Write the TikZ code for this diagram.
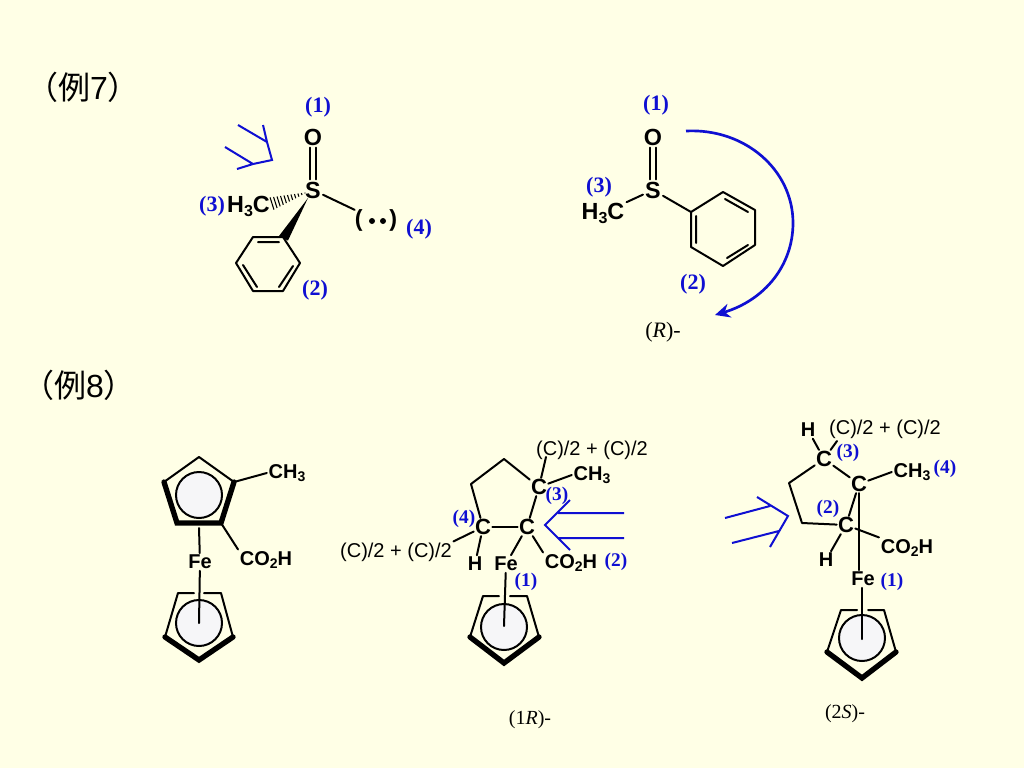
\documentclass[tikz,border=0pt]{standalone}
\usepackage{fontspec}
\setmainfont{Liberation Serif}
\setsansfont{Liberation Sans}
\newfontfamily\cjkfont{Noto Sans CJK JP}
\usetikzlibrary{calc,arrows.meta}
\definecolor{bgc}{RGB}{255,255,230}
\definecolor{lblue}{RGB}{15,15,210}
\definecolor{discfill}{RGB}{246,246,248}
\newcommand{\lowidx}[1]{\raisebox{-2.6pt}{\fontsize{10.5}{11}\selectfont #1}}
\newcommand{\lowidxA}[1]{\raisebox{-3pt}{\fontsize{12}{13}\selectfont #1}}
\tikzset{
  x=0.75pt,y=-0.75pt,
  bond/.style={line width=1.5pt,black,line cap=round,line join=round},
  thickbond/.style={line width=4pt,black,line cap=round,line join=miter},
  atomA/.style={font=\sffamily\bfseries\fontsize{17.5}{19}\selectfont,inner sep=1.5pt,text=black},
  atomB/.style={font=\sffamily\bfseries\fontsize{15}{17}\selectfont,inner sep=1.2pt,text=black},
  atomC/.style={font=\sffamily\bfseries\fontsize{16.5}{18}\selectfont,inner sep=0.8pt,text=black},
  plain/.style={font=\sffamily\fontsize{15}{17}\selectfont,inner sep=1pt,text=black,yshift=-1pt},
  prio/.style={font=\bfseries\fontsize{16.5}{18}\selectfont,text=lblue,inner sep=0pt,yshift=-1.2pt},
  priosm/.style={font=\bfseries\fontsize{14.5}{16}\selectfont,text=lblue,inner sep=0pt,yshift=-1pt},
  config/.style={font=\fontsize{15}{17}\selectfont,text=black,inner sep=0pt,yshift=-1pt},
  heading/.style={font=\cjkfont\fontsize{24}{26}\selectfont,text=black,inner sep=0pt},
  view/.style={line width=1.5pt,lblue,line join=miter},
  disc/.style={draw=black,line width=1.5pt,fill=discfill},
}
\begin{document}
\begin{tikzpicture}
\useasboundingbox (0,0) rectangle (1024,768);
\fill[bgc] (0,0) rectangle (1024,768);

\node[heading] (ex7) at (83,87) {（例{\sffamily 7}）};
\node[heading] (ex8) at (79,385) {（例{\sffamily 8}）};

% ---------- Example 7, left
\node[atomA] (O1) at (313,137) {O};
\node[atomA] (S1) at (313,190) {S};
\node[atomA] (Me1) at (248.5,206) {H\lowidxA{3}C};
\node[atomA,inner sep=0pt] (LP) at (376,220) {(\hspace{20pt})};
\fill (372,221) circle (3) (383,221) circle (3);
\coordinate (a1) at (283,237);
\coordinate (a2) at (300,263);
\coordinate (a3) at (283,291);
\coordinate (a4) at (253,291);
\coordinate (a5) at (236,263);
\coordinate (a6) at (253,237);
\draw[bond] (a1)--(a2)--(a3)--(a4)--(a5)--(a6)--cycle;
\draw[bond] (258,242)--(279,242) (243,265)--(257,287) (293,266)--(279,287);
\draw[bond] ([xshift=-2.3pt]O1.south) -- ([xshift=-2.3pt]S1.north);
\draw[bond] ([xshift=2.3pt]O1.south) -- ([xshift=2.3pt]S1.north);
\draw[bond] (S1) -- (LP);
\coordinate (hs) at (305,193);
\coordinate (he) at (272,203.5);
\foreach \t in {0,0.1,...,1.01}{
  \draw[line width=0.8pt] ($(hs)!\t!(he)+({0.3*(\t*6+0.4)},{0.954*(\t*6+0.4)})$) -- ($(hs)!\t!(he)-({0.3*(\t*6+0.4)},{0.954*(\t*6+0.4)})$);
}
\fill (308,198) -- (279,236) -- (288,240.5) -- cycle;
\draw[view] (238,125)--(267,142) (225,147)--(253,164)
  (263,125)--(267,142)--(272,160)--(253,164)--(237,169);
\node[prio] (p1a) at (318,106) {(1)};
\node[prio] (p3a) at (212,205) {(3)};
\node[prio] (p4a) at (419,228) {(4)};
\node[prio] (p2a) at (315,289) {(2)};

% ---------- Example 7, right
\node[atomA] (O2) at (653,137) {O};
\node[atomA] (S2) at (653,190) {S};
\node[atomA] (Me2) at (603,213) {H\lowidxA{3}C};
\coordinate (b1) at (691,212);
\coordinate (b2) at (723,192);
\coordinate (b3) at (755,210);
\coordinate (b4) at (755,245);
\coordinate (b5) at (723,266);
\coordinate (b6) at (691,247);
\draw[bond] (b1)--(b2)--(b3)--(b4)--(b5)--(b6)--cycle;
\draw[bond] (696,216)--(696,243) (725,199)--(748,212) (727,258)--(748,245);
\draw[bond] ([xshift=-2.3pt]O2.south) -- ([xshift=-2.3pt]S2.north);
\draw[bond] ([xshift=2.3pt]O2.south) -- ([xshift=2.3pt]S2.north);
\draw[bond] (S2) -- (Me2);
\draw[bond] (S2) -- (b1);
\coordinate (arcS) at (686,131);
\coordinate (arcM) at (793,223);
\coordinate (arcE) at (715,315);
\draw[line width=2pt,lblue,-{Stealth[length=15pt*0.75,width=14pt*0.75]}]
  (arcS) .. controls (745,128) and (793,170) .. (arcM) .. controls (793,265) and (765,300) .. (arcE);
\node[prio] (p1b) at (656,104) {(1)};
\node[prio] (p3b) at (599,186) {(3)};
\node[prio] (p2b) at (693,283) {(2)};
\node[config,font=\fontsize{16.5}{18}\selectfont] (cfgR) at (663,331) {(\textit{R})-};

% ---------- Example 8, ferrocene
\coordinate (c1) at (199,457);
\coordinate (c2) at (234,482);
\coordinate (c3) at (221,523);
\coordinate (c4) at (177,523);
\coordinate (c5) at (164,482);
\draw[bond] (c5)--(c1)--(c2);
\draw[thickbond] (c5)--(c4)--(c3)--(c2);
\draw[disc] (199,495) circle (23);
\node[atomB] (Me3) at (287,473) {CH\lowidx{3}};
\node[atomB] (COa) at (266,560) {CO\lowidx{2}H};
\node[atomB] (Fea) at (200,562) {Fe};
\draw[bond] (c2) -- (Me3.west);
\draw[bond] (c3) -- (COa.north west);
\coordinate (fa1) at (199,528);
\coordinate (fa2) at (199,623);
\draw[bond] (fa1) -- (Fea);
\coordinate (d1) at (178,593);
\coordinate (d2) at (221,593);
\coordinate (d3) at (233,637);
\coordinate (d4) at (199,660);
\coordinate (d5) at (165,637);
\draw[bond] (d5)--(d1)--(194,593) (204,593)--(d2)--(d3);
\draw[thickbond] (d5)--(d4)--(d3);
\draw[disc] (199,623) circle (23);
\draw[bond] (Fea) -- (fa2);

% ---------- Example 8, middle
\node[atomC] (C1) at (527,527) {C};
\node[atomC] (C2) at (539,487) {C};
\node[atomC] (C4) at (483,527) {C};
\coordinate (e1) at (504,459);
\coordinate (e2) at (471,484);
\draw[bond] (C4)--(C1);
\draw[bond] (C1)--(C2);
\draw[bond] (C2)--(e1)--(e2)--(C4);
\node[plain] (t1) at (592,449) {(C)/2 + (C)/2};
\node[plain] (t2) at (396,551) {(C)/2 + (C)/2};
\node[atomB] (Me4) at (592,475) {CH\lowidx{3}};
\node[atomB] (Hb) at (475,564) {H};
\node[atomB] (Feb) at (506,564) {Fe};
\node[atomB] (COb) at (571,563) {CO\lowidx{2}H};
\coordinate (t1a) at (546,457);
\draw[bond] (C2)--(t1a);
\draw[bond] (C2)--(Me4.west);
\draw[bond] (C4)--(t2.north east);
\draw[bond] (C4)--(Hb);
\draw[bond] (C1)--(Feb);
\draw[bond] (C1)--(COb.north west);
\coordinate (g1) at (483,596);
\coordinate (g2) at (527,596);
\coordinate (g3) at (539,637);
\coordinate (g4) at (504,663);
\coordinate (g5) at (470,637);
\coordinate (fb) at (504,626);
\draw[bond] (g5)--(g1)--(499,596) (510,596)--(g2)--(g3);
\draw[thickbond] (g5)--(g4)--(g3);
\draw[disc] (504,627) circle (23);
\draw[bond] (Feb)--(fb);
\draw[view] (624,513)--(558,513) (624,538)--(558,538)
  (570,500)--(545,525)--(570,550);
\node[priosm] (p3c) at (557,495) {(3)};
\node[priosm] (p4c) at (464,518) {(4)};
\node[priosm] (p1c) at (526,581) {(1)};
\node[priosm] (p2c) at (616,561) {(2)};
\node[config] (cfg1R) at (530,718) {(1\textit{R})-};

% ---------- Example 8, right
\node[atomC] (C5) at (824,459) {C};
\node[atomC] (C6) at (859,484) {C};
\node[atomC] (C7) at (846,525) {C};
\coordinate (h1) at (789,483);
\coordinate (h2) at (802,523);
\draw[bond] (C5)--(h1)--(h2)--(C7);
\draw[bond] (C5)--(C6);
\draw[bond] (C7)--(C6);
\node[atomB] (Hc) at (808,430) {H};
\node[plain] (t3) at (885,428) {(C)/2 + (C)/2};
\node[atomB] (Me5) at (912,472) {CH\lowidx{3}};
\node[atomB] (COc) at (907,548) {CO\lowidx{2}H};
\node[atomB] (Hd) at (826,560) {H};
\node[atomB] (Fec) at (863,579) {Fe};
\coordinate (t3a) at (837,441);
\draw[bond] (C5)--(Hc);
\draw[bond] (C5)--(t3a);
\draw[bond] (C6)--(Me5.west);
\draw[bond] (C7)--(COc.north west);
\draw[bond] (C7)--(Hd);
\draw[bond] (C6.south)--(Fec.north-|C6.south);
\coordinate (k1) at (841,610);
\coordinate (k2) at (884,610);
\coordinate (k3) at (896,652);
\coordinate (k4) at (862,678);
\coordinate (k5) at (827,652);
\coordinate (fc) at (862,639);
\draw[bond] (k5)--(k1)--(857,610) (868,610)--(k2)--(k3);
\draw[thickbond] (k5)--(k4)--(k3);
\draw[disc] (862,638) circle (23);
\draw[bond] (Fec.south-|fc)--(fc);
\draw[view] (725,518)--(770,506) (732,543)--(779,531)
  (757,497)--(788,516)--(770,547);
\node[priosm] (p3d) at (848,452) {(3)};
\node[priosm] (p2d) at (828,508) {(2)};
\node[priosm] (p4d) at (945,468) {(4)};
\node[priosm] (p1d) at (892,581) {(1)};
\node[config] (cfg2S) at (845,712) {(2\textit{S})-};
\end{tikzpicture}
\end{document}
